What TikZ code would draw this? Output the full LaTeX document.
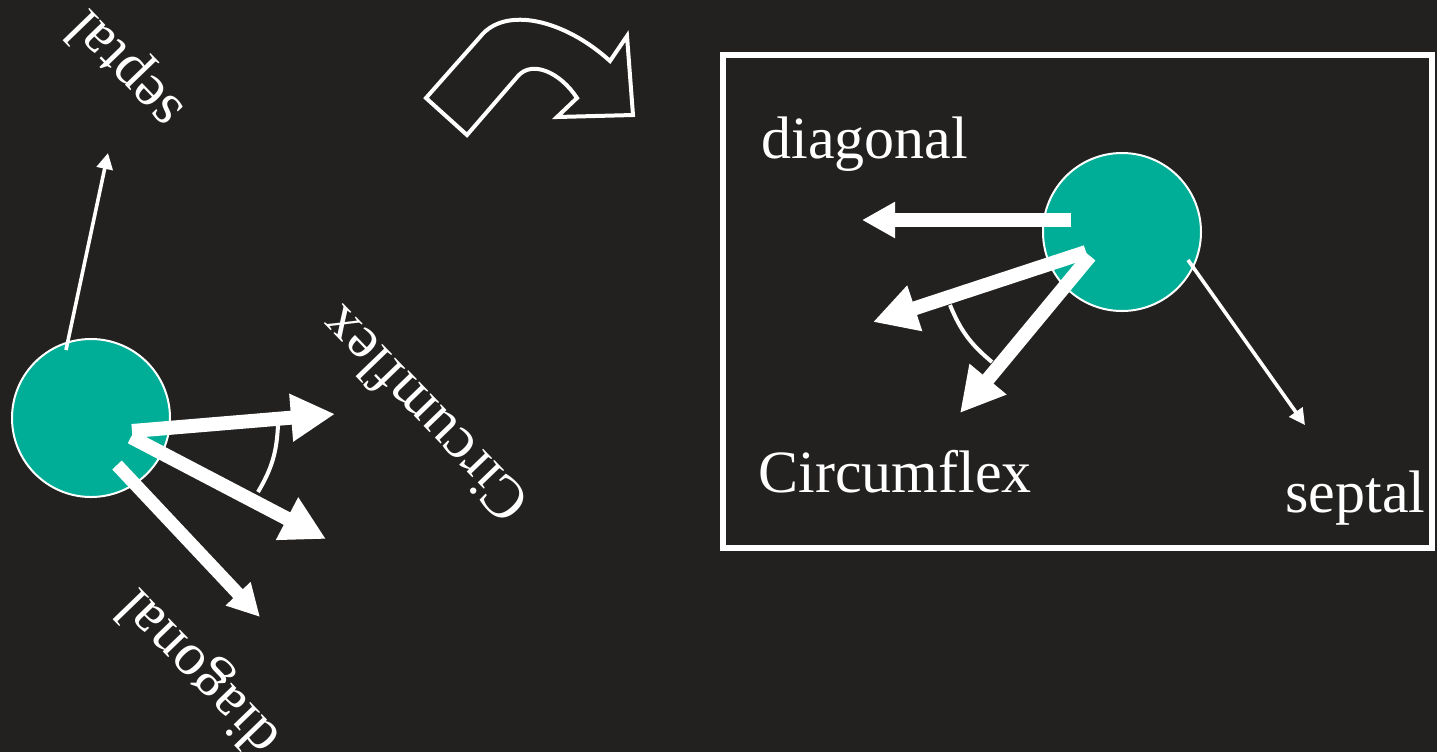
\documentclass[tikz,border=0pt]{standalone}
\usepackage{fontspec}
\setmainfont{Liberation Serif}
\usetikzlibrary{arrows.meta}
\definecolor{bgdark}{RGB}{34,33,32}
\definecolor{cellteal}{RGB}{0,174,151}
\begin{document}
\begin{tikzpicture}[x=0.5pt,y=-0.5pt,
  lbl/.style={text=white,font=\fontsize{30}{36}\selectfont,inner sep=0pt},
  cell/.style={circle,fill=cellteal,draw=white,line width=1pt,minimum size=79pt,inner sep=0pt},
  bigarrow/.style={draw=white,line width=7pt,-{Triangle[length=22pt,width=22.5pt]}},
  diagarrow/.style={draw=white,line width=7pt,-{Triangle[length=16.5pt,width=17pt]}},
  thinarrow/.style={draw=white,line width=1.8pt,-{Triangle[length=8pt,width=8pt]}},
  anglearc/.style={draw=white,line width=2pt},
  bigbox/.style={draw=white,line width=3pt},
  turnarrow/.style={draw=white,line width=2pt,line join=miter}
]
\fill[bgdark] (0,0) rectangle (1437,752);
\useasboundingbox (0,0) rectangle (1437,752);

% curved arrow
\draw[turnarrow] (426,98) -- (467,135) -- (518,76)
  .. controls (532,60) and (560,72) .. (577,98) -- (557,117) -- (633,115)
  -- (627,36) -- (610,61) .. controls (565,20) and (505,5) .. (480,37) -- cycle;

% right panel
\draw[bigbox] (723,55) rectangle (1432,548);
\node[cell] (rc) at (1122,232) {};
\coordinate (rdS) at (1071,220);
\coordinate (rdT) at (862,220);
\coordinate (ruS) at (1086,252);
\coordinate (ruT) at (873,322);
\coordinate (rlS) at (1090,256);
\coordinate (rlT) at (960,413);
\coordinate (rsS) at (1188,260);
\coordinate (rsT) at (1305,425);
\coordinate (ra1) at (950,305);
\coordinate (ra2) at (992,362);
\draw[diagarrow] (rdS) -- (rdT);
\draw[bigarrow] (ruS) -- (ruT);
\draw[bigarrow] (rlS) -- (rlT);
\draw[thinarrow] (rsS) -- (rsT);
\draw[anglearc] (ra1) to[bend right=14] (ra2);
\node[lbl,anchor=base west] (tdiag) at (761,158) {diagonal};
\node[lbl,anchor=base west] (tcirc) at (758,492) {Circumflex};
\node[lbl,anchor=base west] (tsep) at (1285,512) {septal};

% left panel (rotated)
\node[cell] (lc) at (91,418) {};
\coordinate (lsS) at (66,350);
\coordinate (lsT) at (108,153);
\coordinate (luS) at (132,431);
\coordinate (luT) at (335,414);
\coordinate (llS) at (131,437);
\coordinate (llT) at (326,539);
\coordinate (ldS) at (117,465);
\coordinate (ldT) at (260,617);
\coordinate (la1) at (278,425);
\coordinate (la2) at (258,492);
\draw[thinarrow] (lsS) -- (lsT);
\draw[bigarrow] (luS) -- (luT);
\draw[bigarrow] (llS) -- (llT);
\draw[draw=white,line width=6.5pt,-{Triangle[length=16pt,width=16pt]}] (ldS) -- (ldT);
\draw[anglearc] (la1) to[bend left=14] (la2);
\node[lbl,rotate=134] (ltsep) at (127,68) {septal};
\node[lbl,rotate=134] (ltcirc) at (423,416) {Circumflex};
\node[lbl,rotate=134] (ltdiag) at (200,671) {diagonal};
\end{tikzpicture}
\end{document}
